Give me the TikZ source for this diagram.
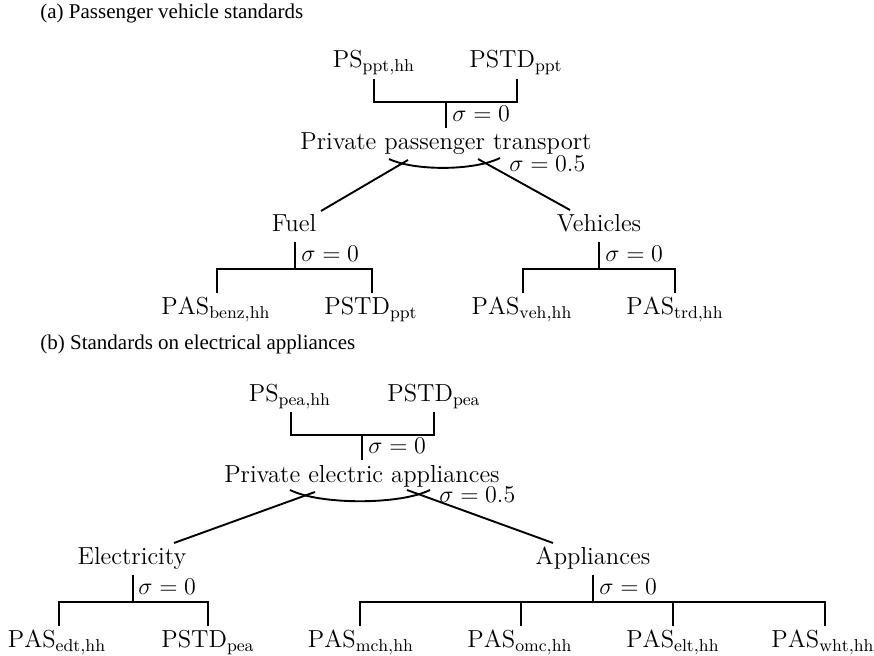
\documentclass[tikz,border=0pt]{standalone}
\usepackage{fontspec}
\newfontfamily\capfont{Liberation Serif}
\begin{document}
\begin{tikzpicture}[x=0.5pt,y=-0.5pt,
  lbl/.style={inner sep=0pt,anchor=base,font=\fontsize{12.3}{14}\selectfont},
  sig/.style={inner sep=0pt,anchor=base west,font=\fontsize{12.3}{14}\selectfont},
  ttl/.style={inner sep=0pt,anchor=base west,font=\capfont\fontsize{10.5}{12}\selectfont},
  edge/.style={line width=0.95pt}]
\useasboundingbox (0,0) rectangle (874,656);

% ---------- (a) ----------
\node[ttl] (ta) at (40,19) {(a) Passenger vehicle standards};
\node[lbl] (psppt) at (374,68) {$\mathrm{PS}_{\mathrm{ppt,hh}}$};
\node[lbl] (pstdppt) at (516,68) {$\mathrm{PSTD}_{\mathrm{ppt}}$};
\coordinate (a1) at (374,79);
\coordinate (a2) at (517,79);
\coordinate (aj) at (446,102);
\coordinate (ajb) at (446,128);
\draw[edge] (a1) |- (aj) -| (a2);
\draw[edge] (aj) -- (ajb);
\node[sig] (sa0) at (452,122) {$\sigma=0$};
\node[lbl] (ppt) at (446,150) {Private passenger transport};
\coordinate (al1) at (408,160);
\coordinate (al2) at (321,211);
\coordinate (ar1) at (478,159);
\coordinate (ar2) at (570,210);
\draw[edge] (al1) -- (al2);
\draw[edge] (ar1) -- (ar2);
\coordinate (aa1) at (389,159);
\coordinate (aa2) at (500,158);
\draw[edge] (aa1) .. controls (414,171) and (474,171) .. (aa2);
\node[sig] (sa5) at (509,172) {$\sigma=0.5$};
\node[lbl] (fuel) at (294,232) {Fuel};
\node[lbl] (veh) at (599,232) {Vehicles};
% Fuel bracket
\coordinate (fj0) at (295,242);
\coordinate (fj) at (295,269);
\coordinate (f1) at (217,293);
\coordinate (f2) at (372,293);
\draw[edge] (fj0) -- (fj);
\draw[edge] (f1) |- (fj) -| (f2);
\node[sig] (sf) at (301,262) {$\sigma=0$};
% Vehicles bracket
\coordinate (vj0) at (599,242);
\coordinate (vj) at (599,269);
\coordinate (v1) at (523,293);
\coordinate (v2) at (675,293);
\draw[edge] (vj0) -- (vj);
\draw[edge] (v1) |- (vj) -| (v2);
\node[sig] (sv) at (605,262) {$\sigma=0$};
\node[lbl] (pasbenz) at (216,315) {$\mathrm{PAS}_{\mathrm{benz,hh}}$};
\node[lbl] (pstdppt2) at (371,315) {$\mathrm{PSTD}_{\mathrm{ppt}}$};
\node[lbl] (pasveh) at (522,315) {$\mathrm{PAS}_{\mathrm{veh,hh}}$};
\node[lbl] (pastrd) at (675,315) {$\mathrm{PAS}_{\mathrm{trd,hh}}$};

% ---------- (b) ----------
\node[ttl] (tb) at (40,350) {(b) Standards on electrical appliances};
\node[lbl] (pspea) at (290,402) {$\mathrm{PS}_{\mathrm{pea,hh}}$};
\node[lbl] (pstdpea) at (434,402) {$\mathrm{PSTD}_{\mathrm{pea}}$};
\coordinate (b1) at (291,412);
\coordinate (b2) at (434,412);
\coordinate (bj) at (362,435);
\coordinate (bjb) at (362,460);
\draw[edge] (b1) |- (bj) -| (b2);
\draw[edge] (bj) -- (bjb);
\node[sig] (sb0) at (368,454) {$\sigma=0$};
\node[lbl] (pea) at (362,483) {Private electric appliances};
\coordinate (bl1) at (315,492);
\coordinate (bl2) at (174,543);
\coordinate (br1) at (407,490);
\coordinate (br2) at (553,543);
\draw[edge] (bl1) -- (bl2);
\draw[edge] (br1) -- (br2);
\coordinate (ba1) at (290,490);
\coordinate (ba2) at (430,490);
\draw[edge] (ba1) .. controls (320,505) and (400,505) .. (ba2);
\node[sig] (sb5) at (439,503) {$\sigma=0.5$};
\node[lbl] (elec) at (132,565) {Electricity};
\node[lbl] (appl) at (593,565) {Appliances};
% Electricity bracket
\coordinate (ej0) at (133,575);
\coordinate (ej) at (133,602);
\coordinate (e1) at (59,626);
\coordinate (e2) at (208,626);
\draw[edge] (ej0) -- (ej);
\draw[edge] (e1) |- (ej) -| (e2);
\node[sig] (se) at (138,595) {$\sigma=0$};
% Appliances bracket
\coordinate (pj0) at (593,575);
\coordinate (pj) at (593,602);
\coordinate (p1) at (360,626);
\coordinate (p2) at (521,626);
\coordinate (p3) at (673,626);
\coordinate (p4) at (825,626);
\draw[edge] (pj0) -- (pj);
\draw[edge] (p1) |- (pj) -| (p4);
\draw[edge] (p2) -- (p2 |- pj);
\draw[edge] (p3) -- (p3 |- pj);
\node[sig] (sp) at (599,595) {$\sigma=0$};
\node[lbl] (pasedt) at (57,648) {$\mathrm{PAS}_{\mathrm{edt,hh}}$};
\node[lbl] (pstdpea2) at (208,648) {$\mathrm{PSTD}_{\mathrm{pea}}$};
\node[lbl] (pasmch) at (361,648) {$\mathrm{PAS}_{\mathrm{mch,hh}}$};
\node[lbl] (pasomc) at (520,648) {$\mathrm{PAS}_{\mathrm{omc,hh}}$};
\node[lbl] (paselt) at (673,648) {$\mathrm{PAS}_{\mathrm{elt,hh}}$};
\node[lbl] (paswht) at (823,648) {$\mathrm{PAS}_{\mathrm{wht,hh}}$};
\end{tikzpicture}
\end{document}
